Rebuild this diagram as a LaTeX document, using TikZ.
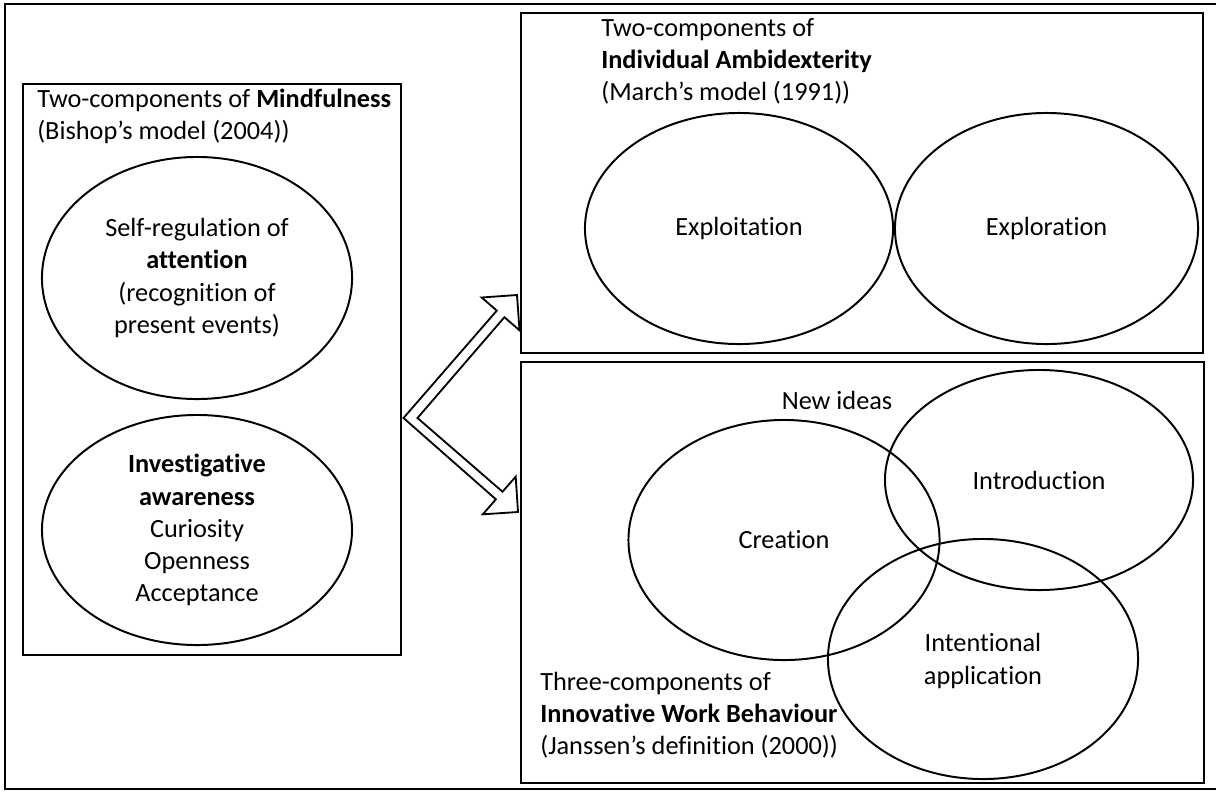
\documentclass[tikz,border=0pt]{standalone}
\usepackage{fontspec}
\setmainfont{Carlito}[Ligatures=NoCommon]
\usetikzlibrary{shapes.geometric}

\tikzset{
  every node/.style={font=\fontsize{18.7}{22.8}\selectfont, inner sep=0pt},
  panel/.style={draw, line width=1.6pt, fill=white, anchor=north west},
  comp/.style={draw, ellipse, line width=1.4pt},
  heading/.style={align=left, anchor=north west},
  label/.style={align=center},
}

\begin{document}
\begin{tikzpicture}[x=0.025cm, y=-0.025cm]
\useasboundingbox (0,0) rectangle (1216,791);
% outer frame
\draw[line width=1pt] (5,4) rectangle (1225,789);

% double arrow
\coordinate (apex) at (403.5,418);
\coordinate (tipA) at (517,295);
\coordinate (tipB) at (518,512);
\draw[line width=1.3pt, line join=miter, fill=white] (apex) -- (496.8,310.6) -- (481.7,297.5) -- (tipA)
  -- (519.5,330.3) -- (504.4,317.2) -- (417.5,418) -- (502.5,491.7) -- (515.7,476.7)
  -- (tipB) -- (482.8,514.3) -- (495.9,499.3) -- cycle;

% panels
\node[panel, minimum width=9.45cm, minimum height=14.275cm] (mind) at (22,83) {};
\node[panel, minimum width=17.05cm, minimum height=8.5cm] (ambi) at (520,12) {};
\node[panel, minimum width=17.075cm, minimum height=10.525cm] (iwb) at (520,361) {};

% headings
\node[heading] (mindtxt) at (37,89) {Two-components of \textbf{Mindfulness}\\(Bishop’s model (2004))};
\node[heading] (ambitxt) at (601,18) {Two-components of\\\textbf{Individual Ambidexterity}\\(March’s model (1991))};
\node[heading] (iwbtxt) at (540,672) {Three-components of\\\textbf{Innovative Work Behaviour}\\(Janssen’s definition (2000))};

% mindfulness
\node[comp, minimum width=7.75cm, minimum height=6.05cm] (selfreg) at (197,278) {};
\node[comp, minimum width=7.75cm, minimum height=5.75cm] (invest) at (197,530) {};
\node[label] at (197,278) {Self-regulation of\\\textbf{attention}\\(recognition of\\present events)};
\node[label] at (197,530) {\textbf{Investigative}\\\textbf{awareness}\\Curiosity\\Openness\\Acceptance};

% ambidexterity
\node[comp, minimum width=7.7cm, minimum height=5.775cm] (exploit) at (739,228.5) {};
\node[comp, minimum width=7.575cm, minimum height=5.775cm] (explore) at (1046.5,228.5) {};
\node[label] at (exploit) {Exploitation};
\node[label] at (explore) {Exploration};

% innovative work behaviour
\node[comp, minimum width=7.775cm, minimum height=6cm] (creation) at (784,540) {};
\node[comp, minimum width=7.7cm, minimum height=5.5cm] (intro) at (1039,480) {};
\node[comp, minimum width=7.75cm, minimum height=6cm] (intent) at (983,659) {};
\node[label] at (creation) {Creation};
\node[label] at (intro) {Introduction};
\node[label] at (983,661) {Intentional\\application};
\node[label] (ideas) at (837,400) {New ideas};
\end{tikzpicture}
\end{document}
